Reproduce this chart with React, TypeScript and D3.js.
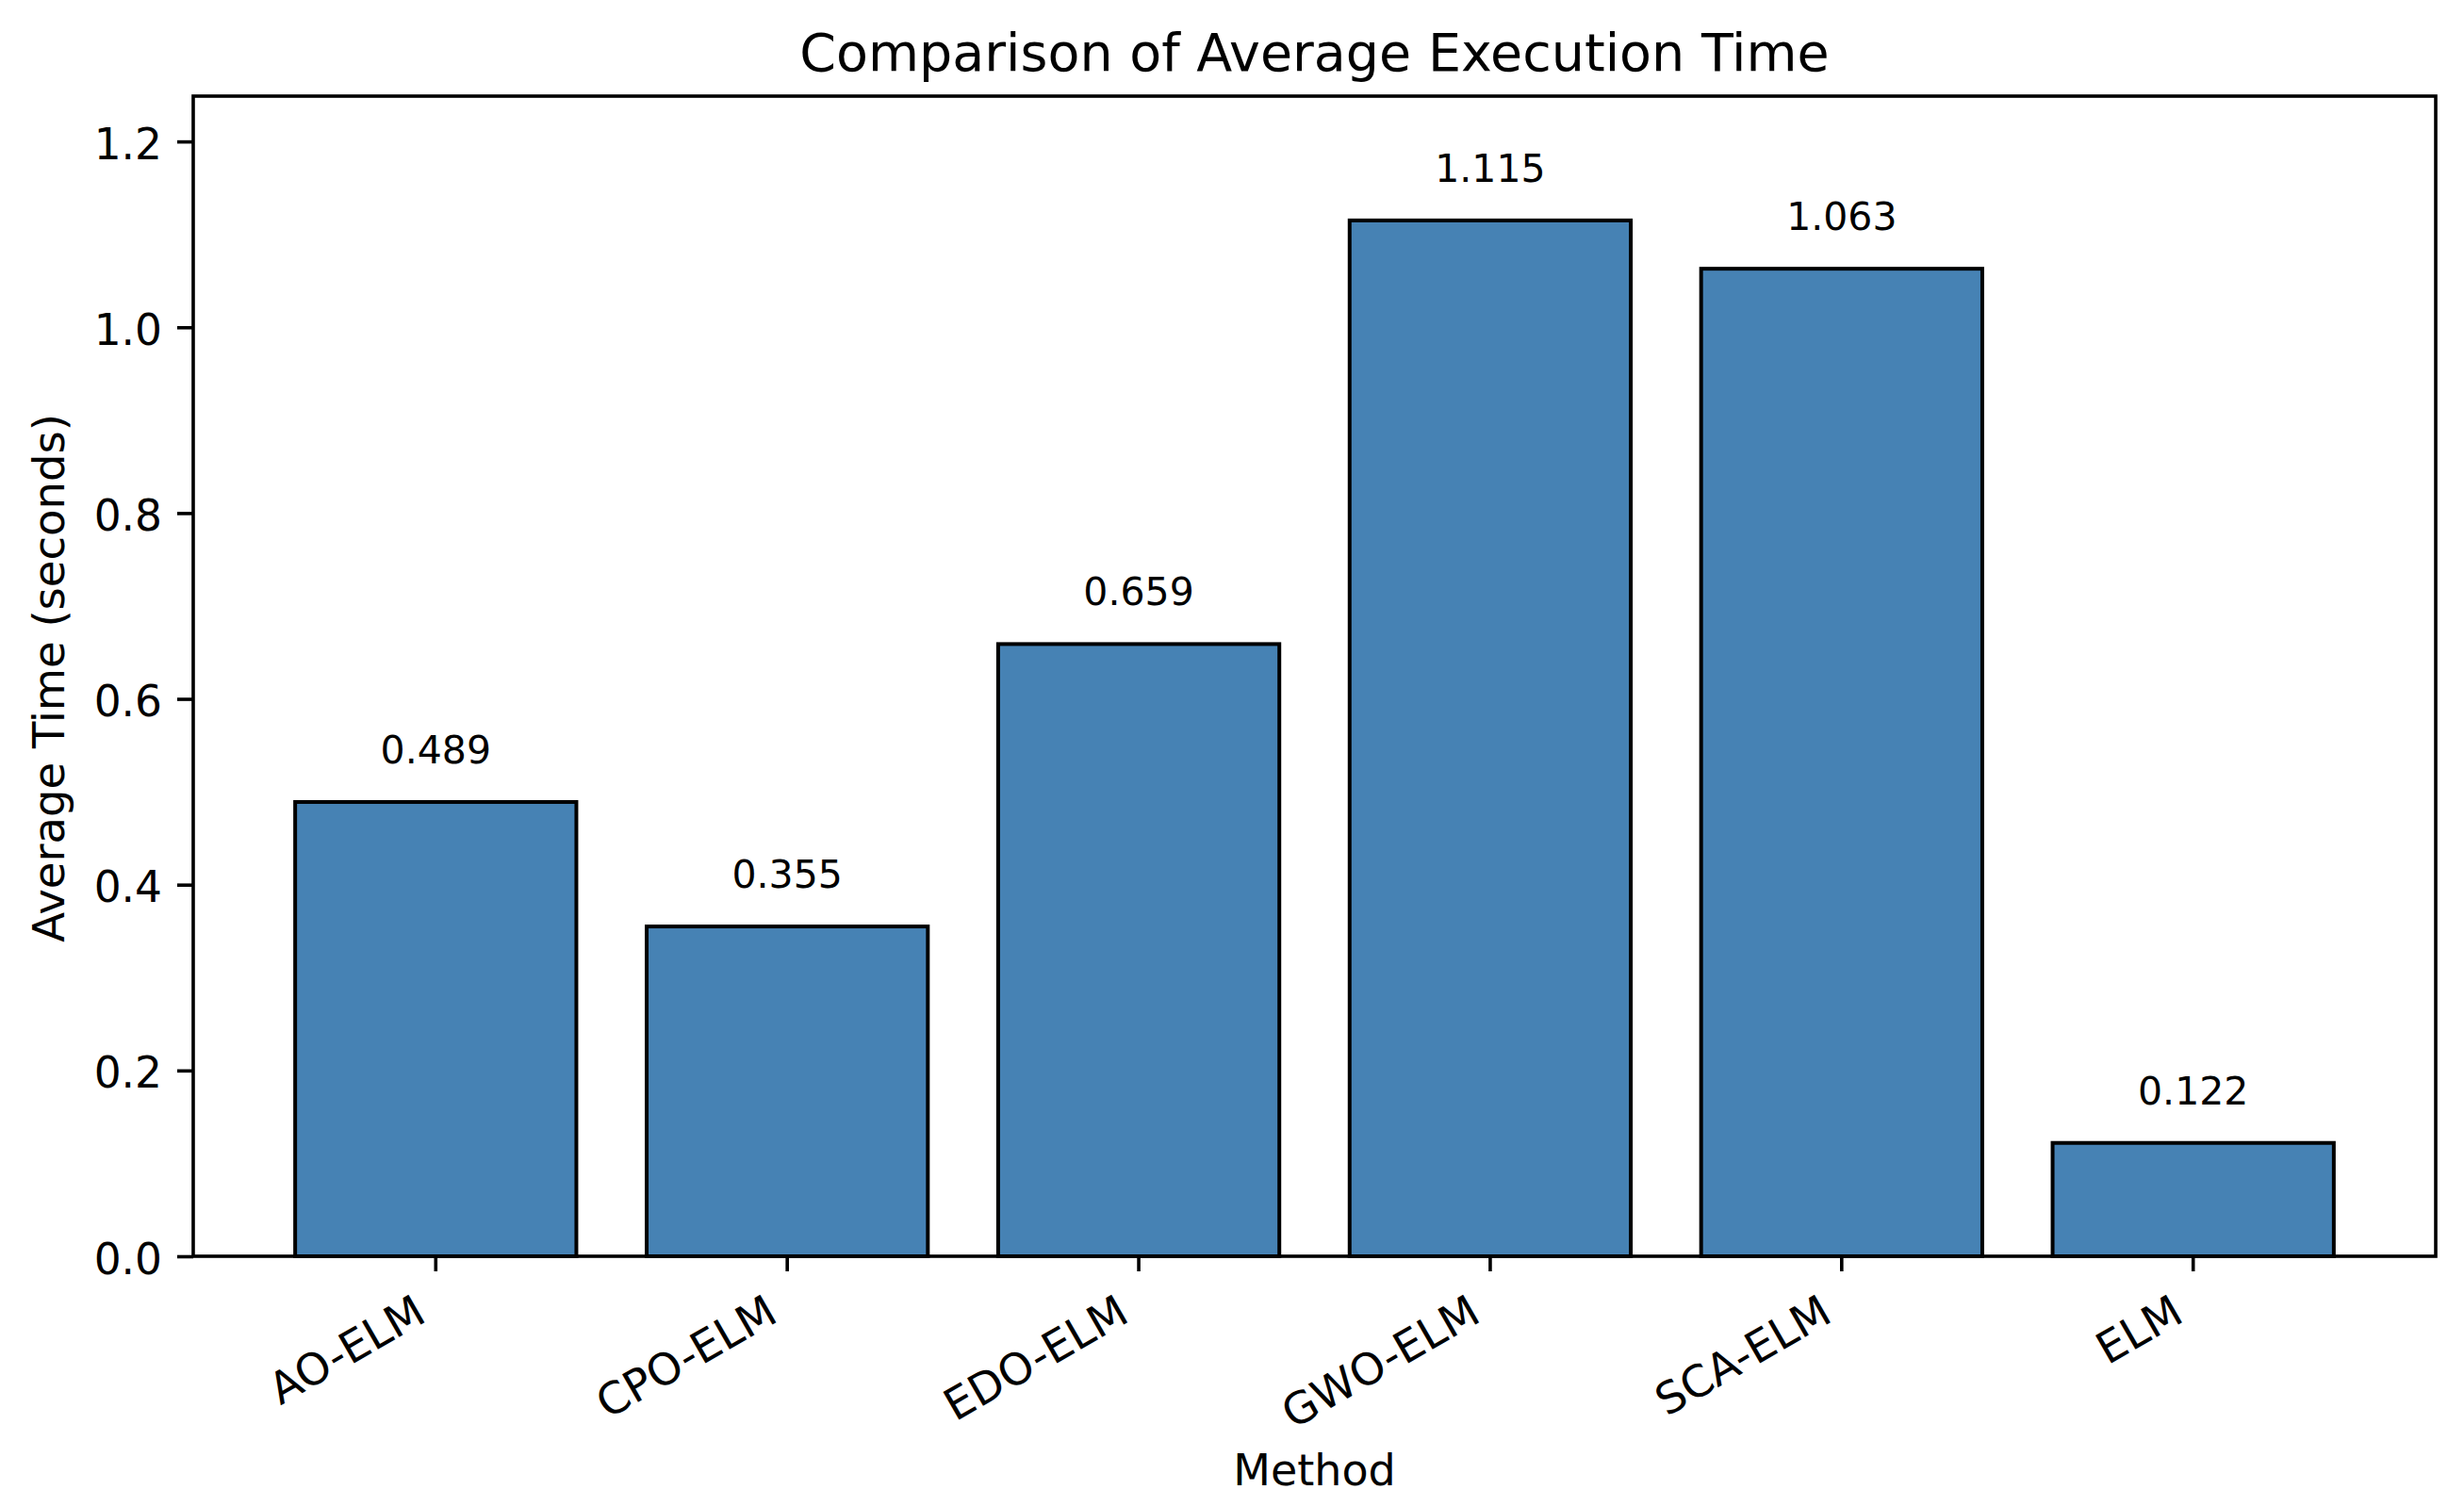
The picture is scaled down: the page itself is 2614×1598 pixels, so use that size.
import React, { useRef, useEffect } from "react";
import * as d3 from "d3";

// chart data
const methods = ["AO-ELM", "CPO-ELM", "EDO-ELM", "GWO-ELM", "SCA-ELM", "ELM"];
const avgTimes = [0.489, 0.355, 0.659, 1.115, 1.063, 0.122];
const yTicks = [0, 0.2, 0.4, 0.6, 0.8, 1.0, 1.2];

const W = 2614;
const H = 1598;
const FONT = "DejaVu Sans";

const App: React.FC = () => {
  const svgRef = useRef<SVGSVGElement>(null);

  useEffect(() => {
    if (!svgRef.current) return;

    // plot area in pixels
    const left = 205;
    const right = 2584;
    const top = 102;
    const bottom = 1333;

    const x = d3
      .scaleBand<string>()
      .domain(methods)
      .range([left, right])
      .paddingInner(0.2)
      .paddingOuter(0.29);

    const yMax = (d3.max(avgTimes) ?? 1) * 1.12;
    const y = d3.scaleLinear().domain([0, yMax]).range([bottom, top]);

    const svg = d3.select(svgRef.current);
    svg.selectAll("*").remove();

    svg.append("rect").attr("width", W).attr("height", H).attr("fill", "white");

    // bars
    svg
      .append("g")
      .selectAll("rect")
      .data(methods)
      .join("rect")
      .attr("x", (d) => x(d)!)
      .attr("y", (_, i) => y(avgTimes[i]))
      .attr("width", x.bandwidth())
      .attr("height", (_, i) => bottom - y(avgTimes[i]))
      .attr("fill", "#4682B4")
      .attr("stroke", "black")
      .attr("stroke-width", 4);

    // value labels above bars
    svg
      .append("g")
      .selectAll("text")
      .data(methods)
      .join("text")
      .attr("x", (d) => x(d)! + x.bandwidth() / 2)
      .attr("y", (_, i) => y(avgTimes[i]) - 41)
      .attr("text-anchor", "middle")
      .style("font-family", FONT)
      .style("font-size", "41px")
      .attr("fill", "black")
      .text((_, i) => avgTimes[i].toFixed(3));

    // y axis ticks + labels
    const yAxis = svg
      .append("g")
      .attr("transform", `translate(${left},0)`)
      .call(
        d3
          .axisLeft(y)
          .tickValues(yTicks)
          .tickSize(17)
          .tickPadding(16)
          .tickFormat(d3.format(".1f"))
      );
    yAxis.select(".domain").remove();
    yAxis.selectAll("line").attr("stroke", "black").attr("stroke-width", 3.6);
    yAxis
      .selectAll("text")
      .attr("dy", null)
      .attr("dominant-baseline", null)
      .attr("y", 18)
      .attr("fill", "black")
      .style("font-family", FONT)
      .style("font-size", "45.5px");

    // x axis ticks + rotated labels
    const xAxis = svg
      .append("g")
      .attr("transform", `translate(0,${bottom})`)
      .call(d3.axisBottom(x).tickSize(16).tickFormat(() => ""));
    xAxis.select(".domain").remove();
    xAxis.selectAll("line").attr("stroke", "black").attr("stroke-width", 3.6);

    svg
      .append("g")
      .selectAll("text")
      .data(methods)
      .join("text")
      .attr("transform", (d) => {
        const px = x(d)! + x.bandwidth() / 2 - 8;
        const py = 1401;
        return `translate(${px},${py}) rotate(-30)`;
      })
      .attr("text-anchor", "end")
      .style("font-family", FONT)
      .style("font-size", "46.5px")
      .attr("fill", "black")
      .text((d) => d);

    // spines
    svg
      .append("rect")
      .attr("x", left)
      .attr("y", top)
      .attr("width", right - left)
      .attr("height", bottom - top)
      .attr("fill", "none")
      .attr("stroke", "black")
      .attr("stroke-width", 3.6);

    // title
    svg
      .append("text")
      .attr("x", (left + right) / 2)
      .attr("y", 75)
      .attr("text-anchor", "middle")
      .style("font-family", FONT)
      .style("font-size", "55.5px")
      .attr("fill", "black")
      .text("Comparison of Average Execution Time");

    // axis titles
    svg
      .append("text")
      .attr("x", (left + right) / 2)
      .attr("y", 1576)
      .attr("text-anchor", "middle")
      .style("font-family", FONT)
      .style("font-size", "46px")
      .attr("fill", "black")
      .text("Method");

    svg
      .append("text")
      .attr("transform", `translate(68,${(top + bottom) / 2 + 2}) rotate(-90)`)
      .attr("text-anchor", "middle")
      .style("font-family", FONT)
      .style("font-size", "46.5px")
      .attr("fill", "black")
      .text("Average Time (seconds)");
  }, []);

  return (
    <svg
      ref={svgRef}
      width={W}
      height={H}
      viewBox={`0 0 ${W} ${H}`}
      style={{ position: "absolute", left: 0, top: 0 }}
    />
  );
};

export default App;
